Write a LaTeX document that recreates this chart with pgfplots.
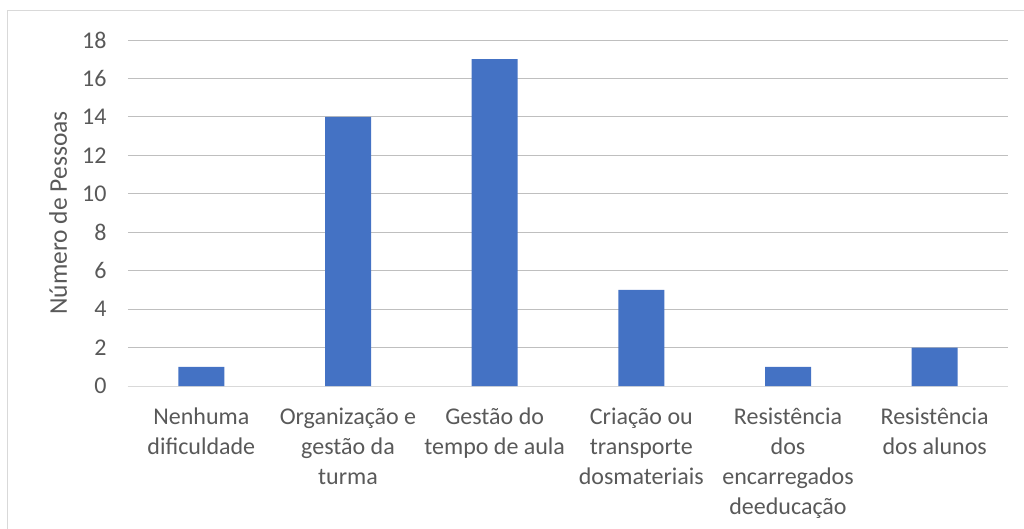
\documentclass[border=0pt]{standalone}
\usepackage{pgfplots}
\pgfplotsset{compat=1.18}
\usepackage{fontspec}
\setmainfont{Carlito}
\definecolor{barblue}{HTML}{4472C4}
\definecolor{txt}{HTML}{595959}
\definecolor{grid}{HTML}{D9D9D9}
\begin{document}
\begin{tikzpicture}[x=1pt,y=1pt]
\path[use as bounding box] (-128,-142) rectangle (896,386);
\begin{scope}
\clip (-128,-142) rectangle (896,386);
\draw[grid, line width=1pt] (-120,-150) -- (-120,375) -- (900,375);
\end{scope}
\begin{axis}[
  at={(0,0)}, anchor=south west,
  scale only axis, width=880pt, height=346pt,
  xmin=-0.5, xmax=5.5, ymin=0, ymax=18,
  ytick={0,2,...,18},
  xtick=data,
  xticklabels={{Nenhuma\\dificuldade},{Organização e\\gestão da\\turma},{Gestão do\\tempo de aula},{Criação ou\\transporte\\dosmateriais},{Resistência\\dos\\encarregados\\deeducação},{Resistência\\dos alunos}},
  axis line style={draw=none},
  major tick length=0pt,
  ymajorgrids=true, xmajorgrids=false,
  grid style={grid, line width=1pt},
  axis x line*=bottom,
  x axis line style={draw=grid, line width=1pt},
  ticklabel style={font=\fontsize{24}{30}\selectfont, text=txt},
  /pgf/number format/assume math mode=true,
  yticklabel style={xshift=-18pt},
  xticklabel style={align=center, anchor=north, yshift=-18pt},
  ylabel={Número de Pessoas},
  every axis y label/.style={at={(-70pt,173pt)}, rotate=90, anchor=center, font=\fontsize{25.5}{30}\selectfont, text=txt},
  bar width=46pt,
]
\addplot[ybar, fill=barblue, draw=none] coordinates {(0,1) (1,14) (2,17) (3,5) (4,1) (5,2)};
\end{axis}
\end{tikzpicture}
\end{document}
